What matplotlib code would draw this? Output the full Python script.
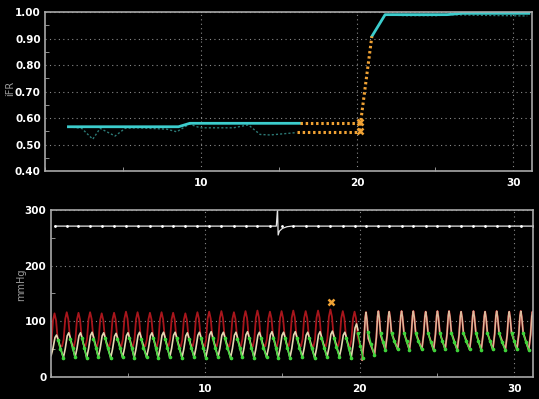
import matplotlib
matplotlib.use("Agg")
import matplotlib.pyplot as plt
from matplotlib.ticker import MultipleLocator

# ---- top panel (iFR) ----
cyan_t = [1.5, 8.55, 9.28, 16.35]
cyan_v = [0.567, 0.567, 0.580, 0.580]
cyan2_t = [20.94, 21.79, 25.75, 26.7, 31.0]
cyan2_v = [0.908, 0.990, 0.990, 0.995, 0.995]
dash_t = [1.5, 2.35, 3.06, 3.53, 4.49, 5.13, 5.88, 7.8, 8.44, 9.25, 9.94, 12.07, 13.03, 13.78, 14.42, 16.13]
dash_v = [0.567, 0.561, 0.520, 0.561, 0.532, 0.561, 0.563, 0.558, 0.548, 0.577, 0.563, 0.563, 0.574, 0.538, 0.536, 0.545]
dash2_t = [21.79, 23.08, 25.1, 25.75, 27.46, 30.9]
dash2_v = [0.990, 0.986, 0.986, 0.990, 0.988, 0.985]
orange_hi_t = [16.35, 20.15]
orange_hi_v = [0.580, 0.580]
orange_lo_t = [16.13, 20.15]
orange_lo_v = [0.548, 0.548]
orange_up_t = [20.15, 20.94]
orange_up_v = [0.552, 0.908]
xmark_t = [20.15, 20.15]
xmark_v = [0.586, 0.552]

# ---- bottom panel (mmHg) ----
beats_pre = [0.26, 1.05, 1.81, 2.56, 3.31, 4.11, 4.88, 5.63, 6.43, 7.18, 7.93, 8.72, 9.50,
             10.26, 11.05, 11.86, 12.61, 13.38, 14.19, 14.94, 15.7, 16.5, 17.3, 18.1, 18.9, 19.66]
pa_sys_pre = [114, 116, 115, 116, 114, 115, 117, 116, 115, 116, 115, 114, 116,
              117, 118, 116, 118, 119, 117, 118, 119, 118, 119, 121, 118, 117]
pa_dia_pre = [50, 55, 54, 55, 54, 55, 55, 54, 55, 54, 55, 54, 55,
              54, 55, 54, 55, 54, 55, 54, 55, 55, 54, 55, 55, 54]
pd_sys_pre = [75, 79, 79, 80, 79, 78, 79, 80, 79, 80, 80, 79, 80,
              81, 80, 80, 81, 80, 81, 80, 81, 80, 81, 82, 80, 95]
pd_dia_pre = [38, 34, 35, 34, 35, 34, 35, 34, 35, 34, 35, 34, 35,
              34, 35, 34, 35, 34, 35, 34, 34, 35, 34, 35, 36, 34]
pd_notch_pre = [66, 68, 69, 68, 69, 68, 69, 68, 69, 68, 69, 68, 69,
                70, 69, 68, 70, 69, 70, 69, 70, 69, 70, 70, 69, 78]

beats_post = [20.4, 21.2, 21.9, 22.7, 23.46, 24.26, 25.02, 25.77, 26.55, 27.35, 28.1, 28.85, 29.66, 30.41, 31.17]
p_sys_post = [116, 118, 117, 118, 118, 117, 118, 118, 117, 118, 117, 118, 117, 118, 117]
p_dia_post = [30, 39, 48, 49, 48, 49, 48, 49, 48, 49, 48, 49, 48, 49, 48]
p_notch_post = [80, 78, 78, 79, 78, 78, 79, 78, 78, 79, 78, 78, 79, 78, 78]

pw_t = [0.3, 14.6, 14.68, 14.72, 14.8, 15.0, 15.3, 15.6, 31.2]
pw_v = [271, 271, 302, 255, 262, 267, 270, 271, 271]
pw_level = 271
xmark2_t = [18.16]
xmark2_v = [135]

BG = "black"
SPINE = "#a8a8a8"
GRID = "#8a8a8a"
CYAN = "#3ccdcd"
DARKTEAL = "#2c7a76"
ORANGE = "#f0a234"
RED = "#a8161c"
BEIGE = "#e6d9b4"
GREEN = "#3fd43a"


def wave(times, sys, dia, offs, fracs):
    xs, ys = [], []
    for t, s, d in zip(times, sys, dia):
        for o, f in zip(offs, fracs):
            xs.append(t + o)
            ys.append(d + f * (s - d))
    return xs, ys


def style(ax, ylim, ymaj, ymin):
    ax.set_facecolor(BG)
    ax.set_xlim(0, 31.2)
    ax.set_ylim(*ylim)
    for s in ax.spines.values():
        s.set_color(SPINE)
        s.set_linewidth(1.2)
    ax.xaxis.set_minor_locator(MultipleLocator(5))
    ax.yaxis.set_minor_locator(MultipleLocator(ymin))
    ax.tick_params(which="major", length=0, colors="white", labelsize=7.5)
    ax.tick_params(axis="x", which="major", pad=5)
    ax.tick_params(axis="y", which="major", pad=3)
    ax.tick_params(which="minor", direction="in", length=3, color=SPINE)
    ax.grid(True, which="major", color=GRID, linestyle=(0, (1, 3)), linewidth=0.8)
    ax.set_axisbelow(True)


fig = plt.figure(figsize=(5.39, 3.99), dpi=100, facecolor=BG)

# top
ax1 = fig.add_axes([0.0835, 0.5714, 0.9035, 0.3985])
style(ax1, (0.40, 1.00), 0.1, 0.05)
ax1.set_xticks([10, 20, 30])
ax1.set_xticklabels(["10", "20", "30"], fontweight="bold")
ax1.set_yticks([0.4, 0.5, 0.6, 0.7, 0.8, 0.9, 1.0])
ax1.set_yticklabels([f"{v:.2f}" for v in [0.4, 0.5, 0.6, 0.7, 0.8, 0.9, 1.0]], fontweight="bold")
ax1.plot(dash_t, dash_v, color=DARKTEAL, lw=1, linestyle=(0, (1.5, 1.5)))
ax1.plot(dash2_t, dash2_v, color=DARKTEAL, lw=1, linestyle=(0, (1.5, 1.5)))
ax1.plot(cyan_t, cyan_v, color=CYAN, lw=2)
ax1.plot(cyan2_t, cyan2_v, color=CYAN, lw=2)
for tt, vv in [(orange_hi_t, orange_hi_v), (orange_lo_t, orange_lo_v), (orange_up_t, orange_up_v)]:
    ax1.plot(tt, vv, color=ORANGE, lw=2.2, linestyle=(0, (0.8, 0.9)))
ax1.plot(xmark_t, xmark_v, linestyle="none", marker="x", color=ORANGE, ms=5, mew=1.8)
ax1.set_ylabel("iFR", color="#9a9a9a", fontsize=7)
ax1.yaxis.set_label_coords(-0.062, 0.52)

# bottom
ax2 = fig.add_axes([0.0937, 0.0559, 0.8952, 0.4178])
style(ax2, (0, 300), 100, 50)
ax2.set_xticks([10, 20, 30])
ax2.set_xticklabels(["10", "20", "30"], fontweight="bold")
ax2.set_yticks([0, 100, 200, 300])
ax2.set_yticklabels(["0", "100", "200", "300"], fontweight="bold")

# white trace with beat ticks
ax2.plot(pw_t, pw_v, color="#e6e6e6", lw=0.9)
ax2.plot(beats_pre + beats_post, [pw_level] * (len(beats_pre) + len(beats_post)),
         linestyle="none", marker=".", ms=2, color="white")

# red (Pa) before pullback
rx, ry = wave(beats_pre, pa_sys_pre, pa_dia_pre,
              [-0.3, -0.2, -0.1, 0.0, 0.1, 0.2, 0.32],
              [0.0, 0.2, 0.8, 1.0, 0.8, 0.3, 0.08])
ax2.plot(rx, ry, color=RED, lw=1.3)

# beige (Pd) before pullback
bx, by = wave(beats_pre, pd_sys_pre, pd_dia_pre,
              [-0.22, -0.1, 0.03, 0.13, 0.22],
              [0.0, 0.35, 0.88, 1.0, 0.82])
ax2.plot(bx, by, color=BEIGE, lw=1.2)

# red + beige after pullback (overlapping)
ox, oy = wave(beats_post, p_sys_post, p_dia_post,
              [-0.25, -0.13, -0.05, 0.0, 0.06, 0.15],
              [0.0, 0.4, 0.88, 1.0, 0.85, 0.45])
ax2.plot(ox, oy, color=RED, lw=1.5)
ax2.plot(ox, oy, color=BEIGE, lw=1.1, alpha=0.85)

# green diastolic segments
def greens(times, notch, dia, start, mid, back):
    for i in range(len(times)):
        t = times[i]
        if i + 1 < len(times):
            tn, dn = times[i + 1], dia[i + 1]
        else:
            tn, dn = t + 0.76, dia[i]
        gx = [t + start, t + mid, tn - back]
        gy = [notch[i], (notch[i] + dn) / 2, dn]
        ax2.plot(gx, gy, color=GREEN, lw=1.1, marker="o", ms=1.6, mec=GREEN, mfc=GREEN)

greens(beats_pre, pd_notch_pre, pd_dia_pre, 0.22, 0.38, 0.22)
greens(beats_post, p_notch_post, p_dia_post, 0.15, 0.32, 0.25)

ax2.plot(xmark2_t, xmark2_v, linestyle="none", marker="x", color=ORANGE, ms=5, mew=1.8)
ax2.set_ylabel("mmHg", color="#9a9a9a", fontsize=7)
ax2.yaxis.set_label_coords(-0.05, 0.55)

fig.savefig("out.png", dpi=100, facecolor=BG)
